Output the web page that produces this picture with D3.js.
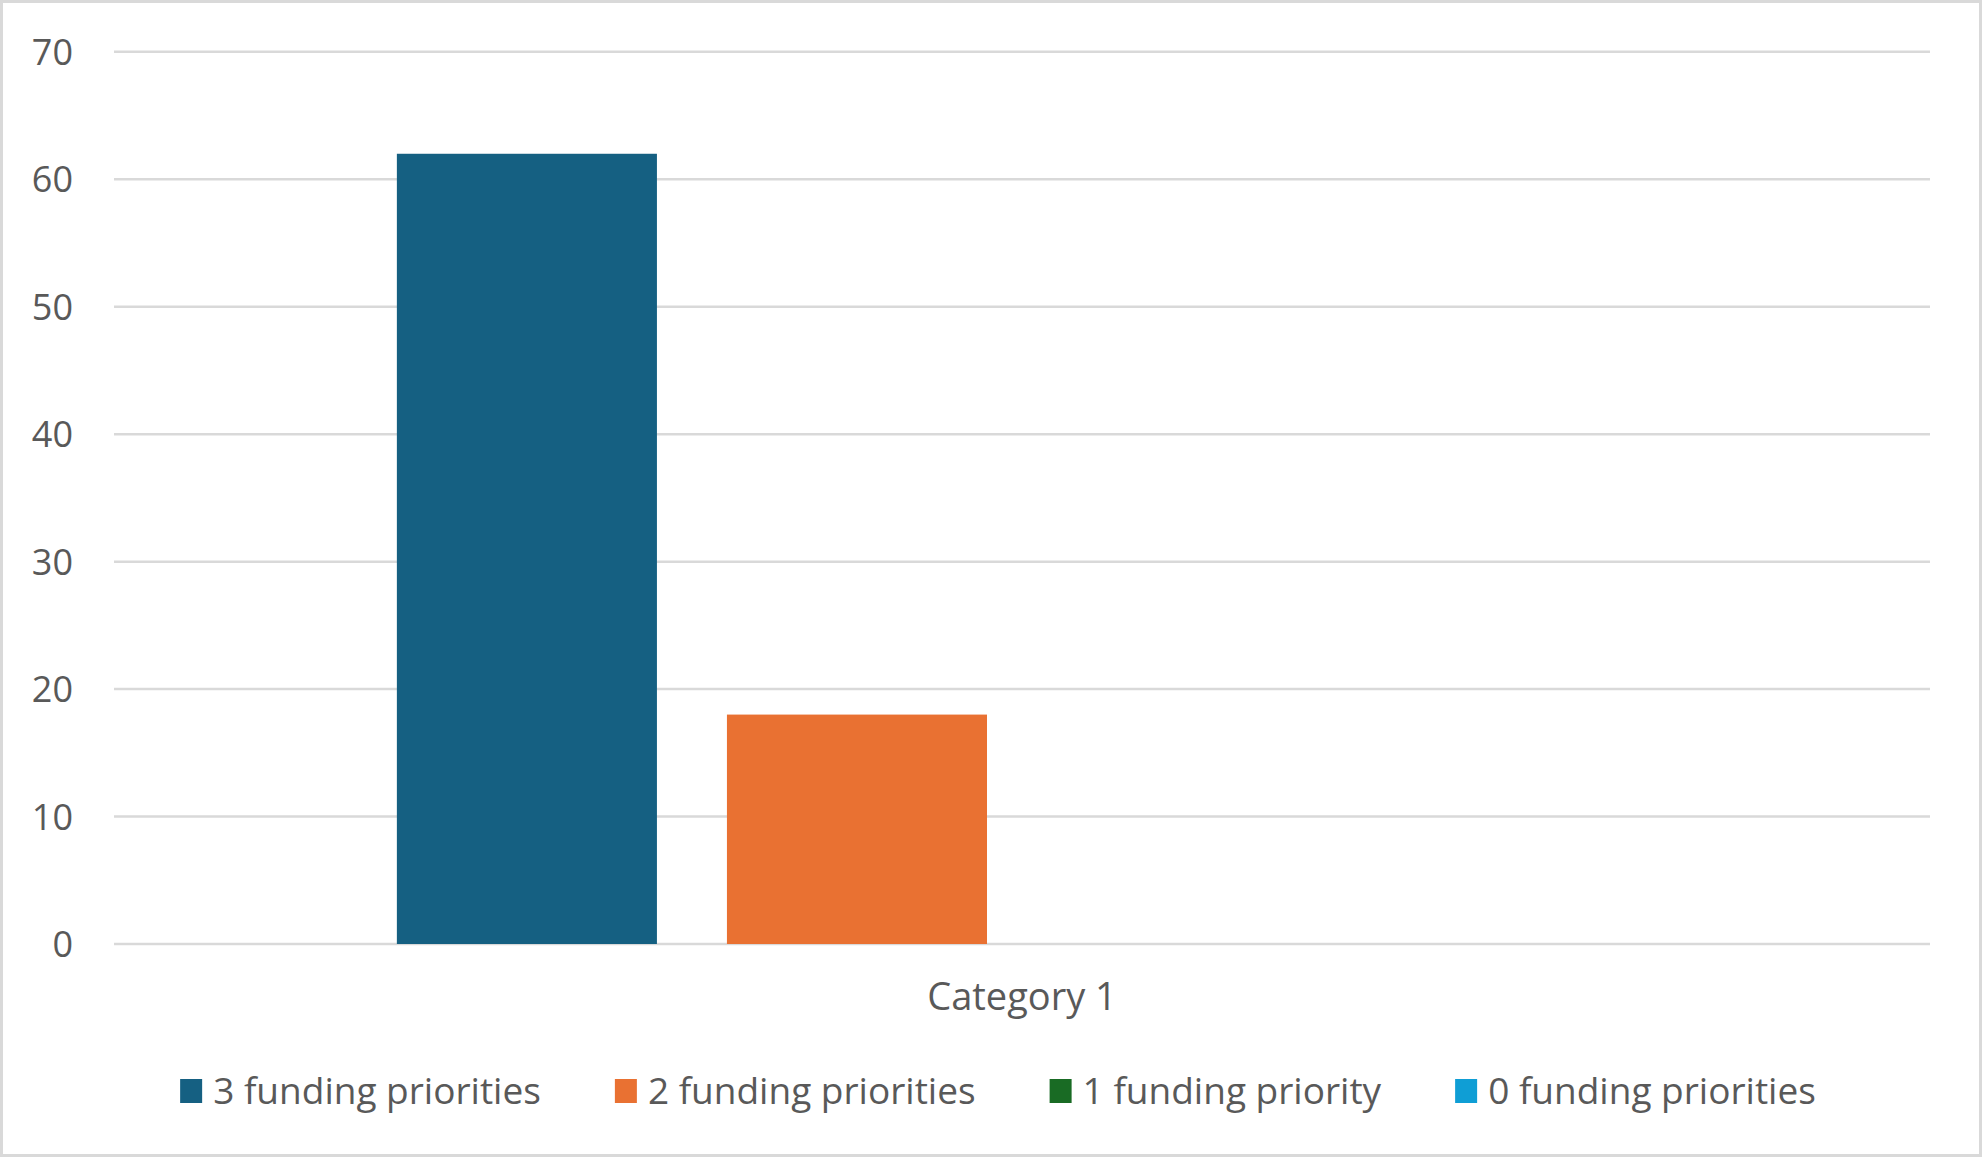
<!DOCTYPE html>
<html>
<head>
<meta charset="utf-8">
<script src="https://cdn.jsdelivr.net/npm/d3@7"></script>
<style>
  body { margin: 0; background: #fff; }
  text { font-family: "Open Sans", sans-serif; fill: #595959; }
</style>
</head>
<body>
<div id="chart"></div>
<script>
// data
const categories = ["Category 1"];
const seriesNames = ["3 funding priorities", "2 funding priorities", "1 funding priority", "0 funding priorities"];
const seriesValues = [62, 18, 0, 0];
const seriesColors = ["#156082", "#E97132", "#196B24", "#0F9ED5"];
const yTicks = [0, 10, 20, 30, 40, 50, 60, 70];

const W = 1982, H = 1157;
const plot = {left: 114, right: 1930, top: 51.8, bottom: 944};

const svg = d3.select("#chart").append("svg")
  .attr("width", W)
  .attr("height", H);

// chart area + border
svg.append("rect")
  .attr("x", 1.5).attr("y", 1.5)
  .attr("width", W - 3).attr("height", H - 3)
  .attr("fill", "#fff")
  .attr("stroke", "#d9d9d9")
  .attr("stroke-width", 3);

const y = d3.scaleLinear()
  .domain([0, 70])
  .range([plot.bottom, plot.top]);

const x0 = d3.scaleBand()
  .domain(categories)
  .range([plot.left, plot.right]);

const x1 = d3.scaleBand()
  .domain(seriesNames)
  .range([0, x0.bandwidth()])
  .paddingInner(0.2121)
  .paddingOuter(0.857);

// gridlines
svg.append("g")
  .selectAll("line")
  .data(yTicks)
  .join("line")
  .attr("x1", plot.left)
  .attr("x2", plot.right)
  .attr("y1", d => y(d))
  .attr("y2", d => y(d))
  .attr("stroke", "#d9d9d9")
  .attr("stroke-width", 2.5);

// y tick labels
svg.append("g")
  .selectAll("text")
  .data(yTicks)
  .join("text")
  .attr("x", 73)
  .attr("y", d => y(d))
  .attr("dy", "0.36em")
  .attr("text-anchor", "end")
  .style("font-size", "36px")
  .text(d => d);

// bars
const groups = svg.append("g")
  .selectAll("g")
  .data(categories)
  .join("g")
  .attr("transform", d => `translate(${x0(d)},0)`);

groups.selectAll("rect")
  .data(seriesNames.map((name, i) => ({name, value: seriesValues[i], color: seriesColors[i]})))
  .join("rect")
  .attr("x", d => x1(d.name))
  .attr("width", x1.bandwidth())
  .attr("y", d => y(d.value))
  .attr("height", d => y(0) - y(d.value))
  .attr("fill", d => d.color);

// category label
svg.append("g")
  .selectAll("text")
  .data(categories)
  .join("text")
  .attr("x", d => x0(d) + x0.bandwidth() / 2)
  .attr("y", 1010)
  .attr("text-anchor", "middle")
  .style("font-size", "38px")
  .text(d => d);

// legend, laid out by measured text width and centred
const legend = svg.append("g");
const items = legend.selectAll("g")
  .data(seriesNames)
  .join("g");

items.append("rect")
  .attr("y", 1079)
  .attr("width", 22)
  .attr("height", 24)
  .attr("fill", (d, i) => seriesColors[i]);

items.append("text")
  .attr("x", 33)
  .attr("y", 1104)
  .style("font-size", "37px")
  .text(d => d);

let cursor = 0;
const offsets = [];
items.each(function() {
  const tw = d3.select(this).select("text").node().getComputedTextLength();
  offsets.push(cursor);
  cursor += 33 + tw + 74;
});
const total = cursor - 74;
const startX = 998 - total / 2;
items.attr("transform", (d, i) => `translate(${startX + offsets[i]},0)`);
</script>
</body>
</html>
